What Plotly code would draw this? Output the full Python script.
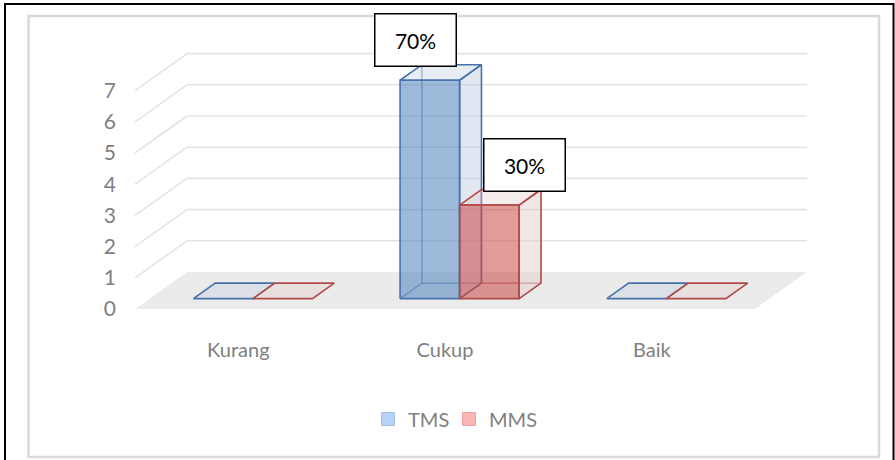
import plotly.graph_objects as go

# ---------------- data ----------------
categories = ["Kurang", "Cukup", "Baik"]
series_names = ["TMS", "MMS"]
tms_values = [0, 7, 0]
mms_values = [0, 3, 0]
y_ticks = [0, 1, 2, 3, 4, 5, 6, 7]

# ---------------- layout / style constants ----------------
W, H = 895, 460
PX, PY = 206.7, 31.2          # pixels per x unit / per y unit
X0PIX, Y0PIX = 135, 309       # pixel of floor front-left corner
DEPTH_X, DEPTH_Y = 52 / PX, 37 / PY   # oblique depth of the floor (data units)
BAR_D0, BAR_D1 = 0.28, 0.70   # bar front/back as fraction of floor depth
BAR_W = 0.288
GROUP_SHIFT = 0.0
FONT = "Lato"
GRAY_TXT = "#7f7f7f"
LEGEND_X_PIX = {"TMS": 368, "MMS": 449}   # left edge of each legend block

styles = {
    "TMS": dict(edge="rgb(72,114,172)", front="rgba(79,129,189,0.55)",
                side="rgba(190,204,224,0.45)", top="rgba(190,204,224,0.35)",
                legend="rgb(183,211,246)", legend_line="rgb(160,192,232)",
                lab_dx=-14.5),
    "MMS": dict(edge="rgb(176,74,72)", front="rgba(200,72,70,0.55)",
                side="rgba(226,200,200,0.45)", top="rgba(226,200,200,0.35)",
                legend="rgb(250,182,182)", legend_line="rgb(240,160,160)",
                lab_dx=35),
}

xmin = -0.5 - X0PIX / PX
xmax = xmin + W / PX
ymin = -(H - Y0PIX) / PY
ymax = Y0PIX / PY

n = len(categories)
fig = go.Figure()

# floor
fig.add_trace(go.Scatter(
    x=[-0.5, n - 0.5, n - 0.5 + DEPTH_X, -0.5 + DEPTH_X],
    y=[0, 0, DEPTH_Y, DEPTH_Y],
    fill="toself", fillcolor="#ebebeb", mode="lines", line=dict(width=0),
    hoverinfo="skip", showlegend=False))

# gridlines (back wall + left wall diagonals)
gx, gy = [], []
for k in y_ticks[1:]:
    gx += [-0.5 + DEPTH_X, n - 0.5 + DEPTH_X, None]
    gy += [k + DEPTH_Y, k + DEPTH_Y, None]
    gx += [-0.5, -0.5 + DEPTH_X, None]
    gy += [k, k + DEPTH_Y, None]
fig.add_trace(go.Scatter(x=gx, y=gy, mode="lines",
                         line=dict(color="#e4e4e4", width=1.6),
                         hoverinfo="skip", showlegend=False))

values = {"TMS": tms_values, "MMS": mms_values}
total = sum(tms_values) + sum(mms_values)


def poly(fig, xs, ys, fill, edge):
    fig.add_trace(go.Scatter(x=xs + [xs[0]], y=ys + [ys[0]], mode="lines",
                             fill="toself" if fill else None, fillcolor=fill,
                             line=dict(color=edge, width=1.6),
                             hoverinfo="skip", showlegend=False))


annotations = []
for i, cat in enumerate(categories):
    for s_idx, s in enumerate(series_names):
        v = values[s][i]
        st = styles[s]
        left = i + GROUP_SHIFT + (s_idx - 1) * BAR_W
        right = left + BAR_W
        xl0, xr0 = left + BAR_D0 * DEPTH_X, right + BAR_D0 * DEPTH_X
        xl1, xr1 = left + BAR_D1 * DEPTH_X, right + BAR_D1 * DEPTH_X
        yb0, yb1 = BAR_D0 * DEPTH_Y, BAR_D1 * DEPTH_Y
        yt0, yt1 = yb0 + v, yb1 + v
        if v > 0:
            # hidden edges (seen through the transparent box)
            fig.add_trace(go.Scatter(
                x=[xl0, xl1, xr1, None, xl1, xl1],
                y=[yb0, yb1, yb1, None, yb1, yt1],
                mode="lines", line=dict(color=st["edge"], width=1.2),
                opacity=0.7, hoverinfo="skip", showlegend=False))
            poly(fig, [xr0, xr1, xr1, xr0], [yb0, yb1, yt1, yt0], st["side"], st["edge"])
            poly(fig, [xl0, xr0, xr1, xl1], [yt0, yt0, yt1, yt1], st["top"], st["edge"])
            poly(fig, [xl0, xr0, xr0, xl0], [yb0, yb0, yt0, yt0], st["front"], st["edge"])
            annotations.append(dict(
                x=(xl0 + xr0) / 2, y=yt0, xref="x", yref="y",
                text=f"{round(v / total * 100)}%", showarrow=False,
                xanchor="center", yanchor="bottom",
                xshift=st["lab_dx"], yshift=13,
                font=dict(family=FONT, size=21, color="#000000"),
                bgcolor="#ffffff", bordercolor="#000000", borderwidth=1.5,
                borderpad=0, width=80, height=51))
        else:
            poly(fig, [xl0, xr0, xr1, xl1], [yt0, yt0, yt1, yt1], st["top"], st["edge"])

# legend entries (one legend per series so each can be placed)
legend_defs = {}
for k, s in enumerate(series_names):
    st = styles[s]
    lname = "legend" if k == 0 else f"legend{k + 1}"
    fig.add_trace(go.Scatter(x=[None], y=[None], mode="markers", name=s,
                             legend=lname,
                             marker=dict(symbol="square", size=13, color=st["legend"],
                                         line=dict(color=st["legend_line"], width=1))))
    legend_defs[lname] = dict(
        orientation="h", x=LEGEND_X_PIX[s] / W, xanchor="left", y=1 - 419 / H,
        yanchor="middle", font=dict(family=FONT, size=20, color=GRAY_TXT),
        bgcolor="rgba(0,0,0,0)", itemclick=False, itemdoubleclick=False)

shapes = [
    # outer black frame
    dict(type="rect", xref="paper", yref="paper",
         x0=5 / W, x1=893.5 / W, y0=1 - 470 / H, y1=1 - 4 / H,
         line=dict(color="#000000", width=2), layer="above"),
    # inner light border
    dict(type="rect", xref="paper", yref="paper",
         x0=28.5 / W, x1=879 / W, y0=1 - 457 / H, y1=1 - 16 / H,
         line=dict(color="#d9d9d9", width=2.5), layer="below"),
]

fig.update_layout(
    width=W, height=H, margin=dict(l=0, r=0, t=0, b=0),
    paper_bgcolor="#ffffff", plot_bgcolor="rgba(0,0,0,0)",
    font=dict(family=FONT, color=GRAY_TXT),
    xaxis=dict(range=[xmin, xmax], domain=[0, 1], showgrid=False, zeroline=False,
               showline=False, tickmode="array", tickvals=list(range(n)),
               ticktext=categories, ticks="", anchor="free", position=1 - 336 / H,
               tickfont=dict(family=FONT, size=20, color=GRAY_TXT), fixedrange=True),
    yaxis=dict(range=[ymin, ymax], domain=[0, 1], showgrid=False, zeroline=False,
               showline=False, tickmode="array", tickvals=y_ticks,
               ticks="", anchor="free", position=116 / W,
               tickfont=dict(family=FONT, size=21, color=GRAY_TXT), fixedrange=True),
    showlegend=True,
    shapes=shapes,
    annotations=annotations,
    hovermode=False,
    **legend_defs,
)

fig.write_html("out.html")
